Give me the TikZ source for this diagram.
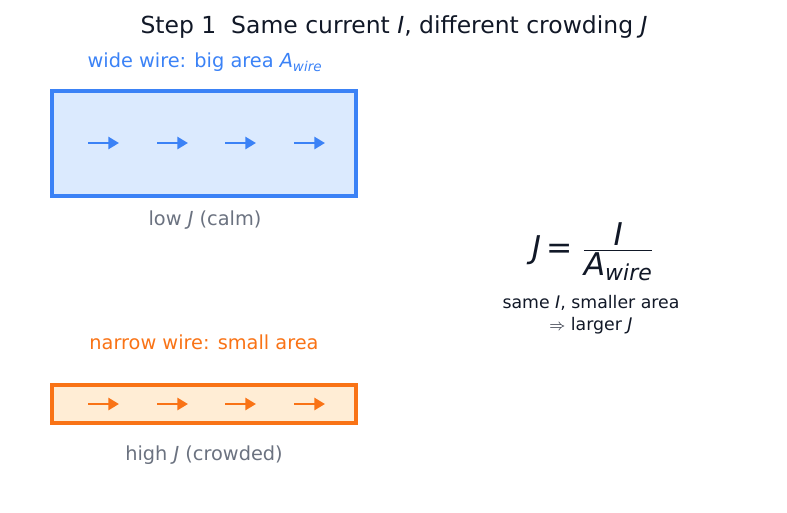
\documentclass[tikz,border=0pt]{standalone}
\usepackage{amsmath}
\usepackage{fontspec}
\setmainfont{DejaVu Sans}
\usetikzlibrary{arrows.meta}

\definecolor{wideblue}{HTML}{3B82F6}
\definecolor{widefill}{HTML}{DBEAFE}
\definecolor{narroworange}{HTML}{F97316}
\definecolor{narrowfill}{HTML}{FFEDD5}
\definecolor{labelgray}{HTML}{6B7280}
\definecolor{darktext}{HTML}{111827}

\begin{document}
\begin{tikzpicture}[
  x=0.75pt, y=-0.75pt,
  titulo/.style={font=\fontsize{17.6}{21}\selectfont, text=darktext},
  legenda/.style={font=\fontsize{14.5}{17}\selectfont},
  nota/.style={font=\fontsize{13}{16.5}\selectfont, text=darktext, align=center},
  fio/.style={line width=2.6pt},
  seta/.style={line width=2.2pt, -{Triangle[length=8pt, width=9pt]}}
]
  \useasboundingbox (0,0) rectangle (787,512);

  % titulo
  \node[titulo] (title) at (394,27) {Step 1\ \ Same current \textit{I}, different crowding \textit{J}};

  % fio largo
  \node[legenda, text=wideblue] (widelabel) at (205,62) {wide wire: big area \textit{A}\textsubscript{\textit{wire}}};
  \draw[fio, draw=wideblue, fill=widefill] (52,91) rectangle (356,196);
  \node[legenda, text=labelgray] (widenote) at (205,220) {low \textit{J} (calm)};
  \foreach \i/\x in {1/88, 2/157, 3/225, 4/294} {
    \coordinate (wa\i) at (\x,143);
    \coordinate (wb\i) at (\x+31,143);
    \draw[seta, wideblue] (wa\i) -- (wb\i);
  }

  % fio estreito
  \node[legenda, text=narroworange] (narrowlabel) at (204,342) {narrow wire: small area};
  \draw[fio, draw=narroworange, fill=narrowfill] (52,385) rectangle (356,423);
  \node[legenda, text=labelgray] (narrownote) at (204,455) {high \textit{J} (crowded)};
  \foreach \i/\x in {1/88, 2/157, 3/225, 4/294} {
    \coordinate (na\i) at (\x,404);
    \coordinate (nb\i) at (\x+31,404);
    \draw[seta, narroworange] (na\i) -- (nb\i);
  }

  % formula
  \node[font=\fontsize{23.5}{28}\selectfont, text=darktext] (formula) at (593,252)
    {$\textit{J}\,\textup{=}\;\frac{\mbox{\textit{I}}}{\mbox{\textit{A}\textsubscript{\textit{wire}}}}$};
  \node[nota] (rule) at (591,315) {same \textit{I}, smaller area\\$\Rightarrow$ larger \textit{J}};
\end{tikzpicture}
\end{document}
